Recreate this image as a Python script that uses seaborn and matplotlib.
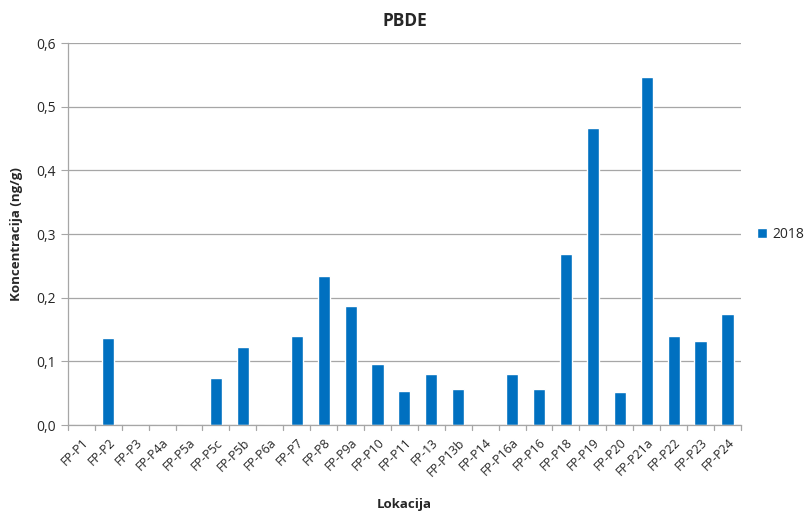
import pandas as pd
import matplotlib
matplotlib.use('Agg')
import matplotlib.pyplot as plt
import seaborn as sns

# === DATA ===
locations = ['FP-P1', 'FP-P2', 'FP-P3', 'FP-P4a', 'FP-P5a', 'FP-P5c', 'FP-P5b', 'FP-P6a',
             'FP-P7', 'FP-P8', 'FP-P9a', 'FP-P10', 'FP-P11', 'FP-13', 'FP-P13b', 'FP-P14',
             'FP-P16a', 'FP-P16', 'FP-P18', 'FP-P19', 'FP-P20', 'FP-P21a', 'FP-P22', 'FP-P23',
             'FP-P24']
values_2018 = [0.0, 0.137, 0.0, 0.0, 0.0, 0.074, 0.122, 0.0,
               0.140, 0.234, 0.187, 0.096, 0.053, 0.080, 0.056, 0.0,
               0.080, 0.056, 0.269, 0.467, 0.052, 0.547, 0.140, 0.132,
               0.174]
year_label = '2018'
yticks = [0.0, 0.1, 0.2, 0.3, 0.4, 0.5, 0.6]

df = pd.DataFrame({'Lokacija': locations, 'Konc': values_2018, 'Godina': year_label})

# === STYLE ===
sns.set_style('white')
plt.rcParams['font.family'] = ['Open Sans', 'DejaVu Sans']

fig = plt.figure(figsize=(8.08, 5.13), dpi=100)
ax = fig.add_axes([0.084, 0.1715, 0.833, 0.7445])

sns.barplot(data=df, x='Lokacija', y='Konc', hue='Godina', palette=['#0070C0'],
            width=0.45, ax=ax, saturation=1)

ax.set_ylim(0, 0.6)
ax.set_xlim(-0.5, len(locations) - 0.5)
ax.set_yticks(yticks)
ax.set_yticklabels([f'{t:.1f}'.replace('.', ',') for t in yticks], fontsize=10)
ax.yaxis.grid(True, color='#a6a6a6', linewidth=0.9)
ax.set_axisbelow(True)

# category boundary ticks like Excel
ax.set_xticks(range(len(locations)))
ax.set_xticklabels(locations, rotation=45, ha='right', rotation_mode='anchor', fontsize=9)
ax.tick_params(axis='x', length=0, pad=8)
for i in range(len(locations) + 1):
    ax.plot([i - 0.5, i - 0.5], [0, -0.008], color='#a6a6a6', lw=0.9, clip_on=False)
ax.tick_params(axis='y', length=5, color='#a6a6a6', left=True)

for side in ['top', 'right']:
    ax.spines[side].set_visible(False)
for side in ['left', 'bottom']:
    ax.spines[side].set_color('#a6a6a6')
    ax.spines[side].set_linewidth(0.9)

ax.set_title('PBDE', fontsize=12.5, fontweight='bold', pad=12)
ax.set_xlabel('Lokacija', fontsize=9.5, fontweight='bold')
ax.xaxis.set_label_coords(0.5, -0.19)
ax.set_ylabel('Koncentracija (ng/g)', fontsize=9.5, fontweight='bold', labelpad=10)

ax.legend(loc='center left', bbox_to_anchor=(1.005, 0.5), frameon=False,
          fontsize=10, handlelength=0.7, handleheight=0.7, handletextpad=0.4)

fig.savefig('out.png', dpi=100)
